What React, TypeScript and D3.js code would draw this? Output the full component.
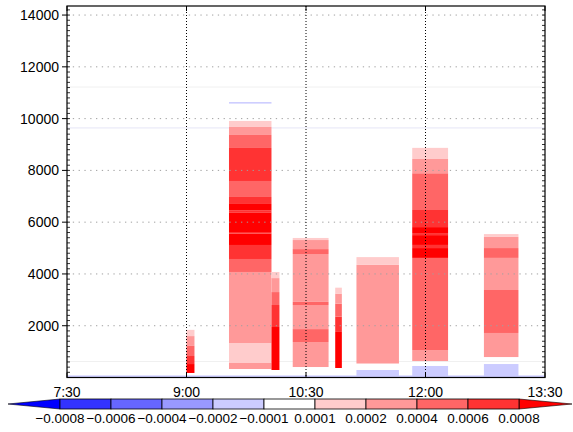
import React from "react";
import * as d3 from "d3";

// ---- data ----
const xTickLabels = ["7:30", "9:00", "10:30", "12:00", "13:30"];
const yTicks = [2000, 4000, 6000, 8000, 10000, 12000, 14000];
const levels = [-0.0008, -0.0006, -0.0004, -0.0002, -0.0001, 0.0001, 0.0002, 0.0004, 0.0006, 0.0008];
const levelLabels = ["−0.0008", "−0.0006", "−0.0004", "−0.0002", "−0.0001", "0.0001", "0.0002", "0.0004", "0.0006", "0.0008"];
const levelColors = ["#0000ff", "#3333ff", "#6666ff", "#9999ff", "#ccccff", "#ffffff", "#ffcccc", "#ff9999", "#ff6666", "#ff3333", "#ff0000"];

const columnStarts = ["9:00", "9:32", "10:04", "10:20", "10:52", "11:08", "11:50", "12:44"];
const columnEnds = ["9:06", "10:04", "10:10", "10:47", "10:57", "11:40", "12:17", "13:10"];

// bands: [bottom height, top height, value]
const col1 = [[175, 520, 0.0009], [520, 830, 0.0007], [830, 1220, 0.0005], [1220, 1600, 0.0003], [1600, 1840, 0.00015]];
const col2 = [
  [328, 560, 0.0003], [560, 1333, 0.00015], [1333, 4076, 0.0003], [4076, 4578, 0.0005], [4578, 5119, 0.0007],
  [5119, 5560, 0.0009], [5560, 5620, 0.0007], [5620, 6380, 0.0009], [6380, 6450, 0.0007], [6450, 6703, 0.0009],
  [6703, 6973, 0.0007], [6973, 7591, 0.0005], [7591, 8866, 0.0007], [8866, 9368, 0.0005], [9368, 9677, 0.0003],
  [9677, 9910, 0.00015], [10580, 10640, -0.00015],
];
const col3 = [[290, 1950, 0.0009], [1950, 2800, 0.0007], [2800, 3300, 0.0005], [3300, 3840, 0.0003], [3840, 4076, 0.00015]];
const col4 = [
  [405, 1370, 0.0003], [1370, 1870, 0.0005], [1870, 2800, 0.0003], [2800, 2920, 0.0005], [2920, 4770, 0.0003],
  [4770, 4960, 0.0005], [4960, 5310, 0.0003], [5310, 5390, 0.00015],
];
const col5 = [[367, 1760, 0.0009], [1760, 2350, 0.0007], [2350, 2850, 0.0005], [2850, 3240, 0.0003], [3240, 3470, 0.00015]];
const col6 = [[20, 290, -0.00015], [540, 4350, 0.0003], [4350, 4650, 0.00015]];
const col7 = [
  [20, 445, -0.00015], [635, 1060, 0.0003], [1060, 4620, 0.0005], [4620, 5000, 0.0009], [5000, 5120, 0.0007],
  [5120, 5500, 0.0009], [5500, 5580, 0.0007], [5580, 5810, 0.0009], [5810, 6470, 0.0007], [6470, 7890, 0.0005],
  [7890, 8440, 0.0003], [8440, 8870, 0.00015],
];
const col8 = [
  [20, 520, -0.00015], [790, 985, 0.0003], [985, 1720, 0.0003], [1720, 3380, 0.0005], [3380, 4620, 0.0003],
  [4620, 5000, 0.0005], [5000, 5430, 0.0003], [5430, 5540, 0.00015],
];
const columnBands = [col1, col2, col3, col4, col5, col6, col7, col8];
const baseStrip = [["7:30", "13:30", 20, 80, -0.00015]];
const faintHeights = [11220, 9640, 620];

// ---- layout ----
const W = 573, H = 432;
const L = 67, R = 545, T = 6, B = 377.5;

const toMin = (s: string) => {
  const [h, m] = s.split(":").map(Number);
  return h * 60 + m;
};

export default function App() {
  const x = d3.scaleLinear().domain([toMin("7:30"), toMin("13:30")]).range([L, R]);
  const y = d3.scaleLinear().domain([0, 14350]).range([B, T]);
  const color = d3.scaleThreshold<number, string>().domain(levels).range(levelColors);
  const cb = d3.scaleLinear().domain([0, levels.length - 1]).range([60, 519]);
  const cbTop = 399, cbBot = 409, cbMid = 404;
  const font = "'Liberation Sans', Arial, Helvetica, sans-serif";

  const cells: React.ReactNode[] = [];
  columnBands.forEach((bands, ci) => {
    const x0 = x(toMin(columnStarts[ci]));
    const x1 = x(toMin(columnEnds[ci]));
    bands.forEach((b, bi) => {
      const [lo, hi, v] = b as number[];
      cells.push(
        <rect key={`c${ci}-${bi}`} x={x0} y={y(hi)} width={x1 - x0} height={y(lo) - y(hi)} fill={color(v)} />
      );
    });
  });

  const minorY = d3.range(0, 14351, 200);

  return (
    <svg width={W} height={H} style={{ position: "absolute", left: 0, top: 0, background: "#fff" }}>
      {/* faint lines */}
      {faintHeights.map((h, i) => (
        <line key={`f${i}`} x1={L} x2={R} y1={y(h)} y2={y(h)} stroke={i === 1 ? "#e6e6f6" : "#f0f0f0"} strokeWidth={1} />
      ))}
      {baseStrip.map((s, i) => (
        <rect key={`b${i}`} x={x(toMin(s[0] as string))} width={x(toMin(s[1] as string)) - x(toMin(s[0] as string))}
          y={y(s[3] as number)} height={y(s[2] as number) - y(s[3] as number)} fill={color(s[4] as number)} />
      ))}
      {cells}
      {/* horizontal grid */}
      {yTicks.map((t) => (
        <line key={`gy${t}`} x1={L} x2={R} y1={y(t)} y2={y(t)} stroke="#a0a0a0" strokeWidth={1} strokeDasharray="1.3,4.5" />
      ))}
      {/* vertical grid */}
      {xTickLabels.slice(1, -1).map((t) => (
        <line key={`gx${t}`} x1={x(toMin(t))} x2={x(toMin(t))} y1={T} y2={B} stroke="#000" strokeWidth={1} strokeDasharray="1,2" />
      ))}
      {/* frame */}
      <rect x={L} y={T} width={R - L} height={B - T} fill="none" stroke="#000" strokeWidth={1.2} />
      {/* minor y ticks */}
      {minorY.map((t) => (
        <g key={`my${t}`}>
          <line x1={L} x2={L + 3} y1={y(t)} y2={y(t)} stroke="#000" strokeWidth={0.8} />
          <line x1={R} x2={R - 3} y1={y(t)} y2={y(t)} stroke="#000" strokeWidth={0.8} />
        </g>
      ))}
      {/* major y ticks & labels */}
      {yTicks.map((t) => (
        <g key={`ty${t}`}>
          <line x1={L - 5} x2={L} y1={y(t)} y2={y(t)} stroke="#000" strokeWidth={1} />
          <text x={L - 8} y={y(t) + 5} textAnchor="end" fontSize={14} fontFamily={font} fill="#000">{t}</text>
        </g>
      ))}
      {/* x ticks & labels */}
      {xTickLabels.map((t) => (
        <g key={`tx${t}`}>
          <line x1={x(toMin(t))} x2={x(toMin(t))} y1={B} y2={B - 5} stroke="#000" strokeWidth={1} />
          <line x1={x(toMin(t))} x2={x(toMin(t))} y1={T} y2={T + 5} stroke="#000" strokeWidth={1} />
          <text x={x(toMin(t))} y={397} textAnchor="middle" fontSize={14} fontFamily={font} fill="#000">{t}</text>
        </g>
      ))}
      {/* colorbar */}
      <polygon points={`8,${cbMid} ${cb(0)},${cbTop} ${cb(0)},${cbBot}`} fill={levelColors[0]} stroke="#000" strokeWidth={0.6} />
      <polygon points={`572,${cbMid} ${cb(levels.length - 1)},${cbTop} ${cb(levels.length - 1)},${cbBot}`} fill={levelColors[levelColors.length - 1]} stroke="#000" strokeWidth={0.6} />
      {levels.slice(0, -1).map((lv, i) => (
        <rect key={`cb${i}`} x={cb(i)} y={cbTop} width={cb(i + 1) - cb(i)} height={cbBot - cbTop}
          fill={levelColors[i + 1]} stroke="#000" strokeWidth={0.8} />
      ))}
      {levelLabels.map((s, i) => (
        <text key={`cl${i}`} x={cb(i)} y={423} textAnchor="middle" fontSize={13.5} fontFamily={font} fill="#000">{s}</text>
      ))}
    </svg>
  );
}
